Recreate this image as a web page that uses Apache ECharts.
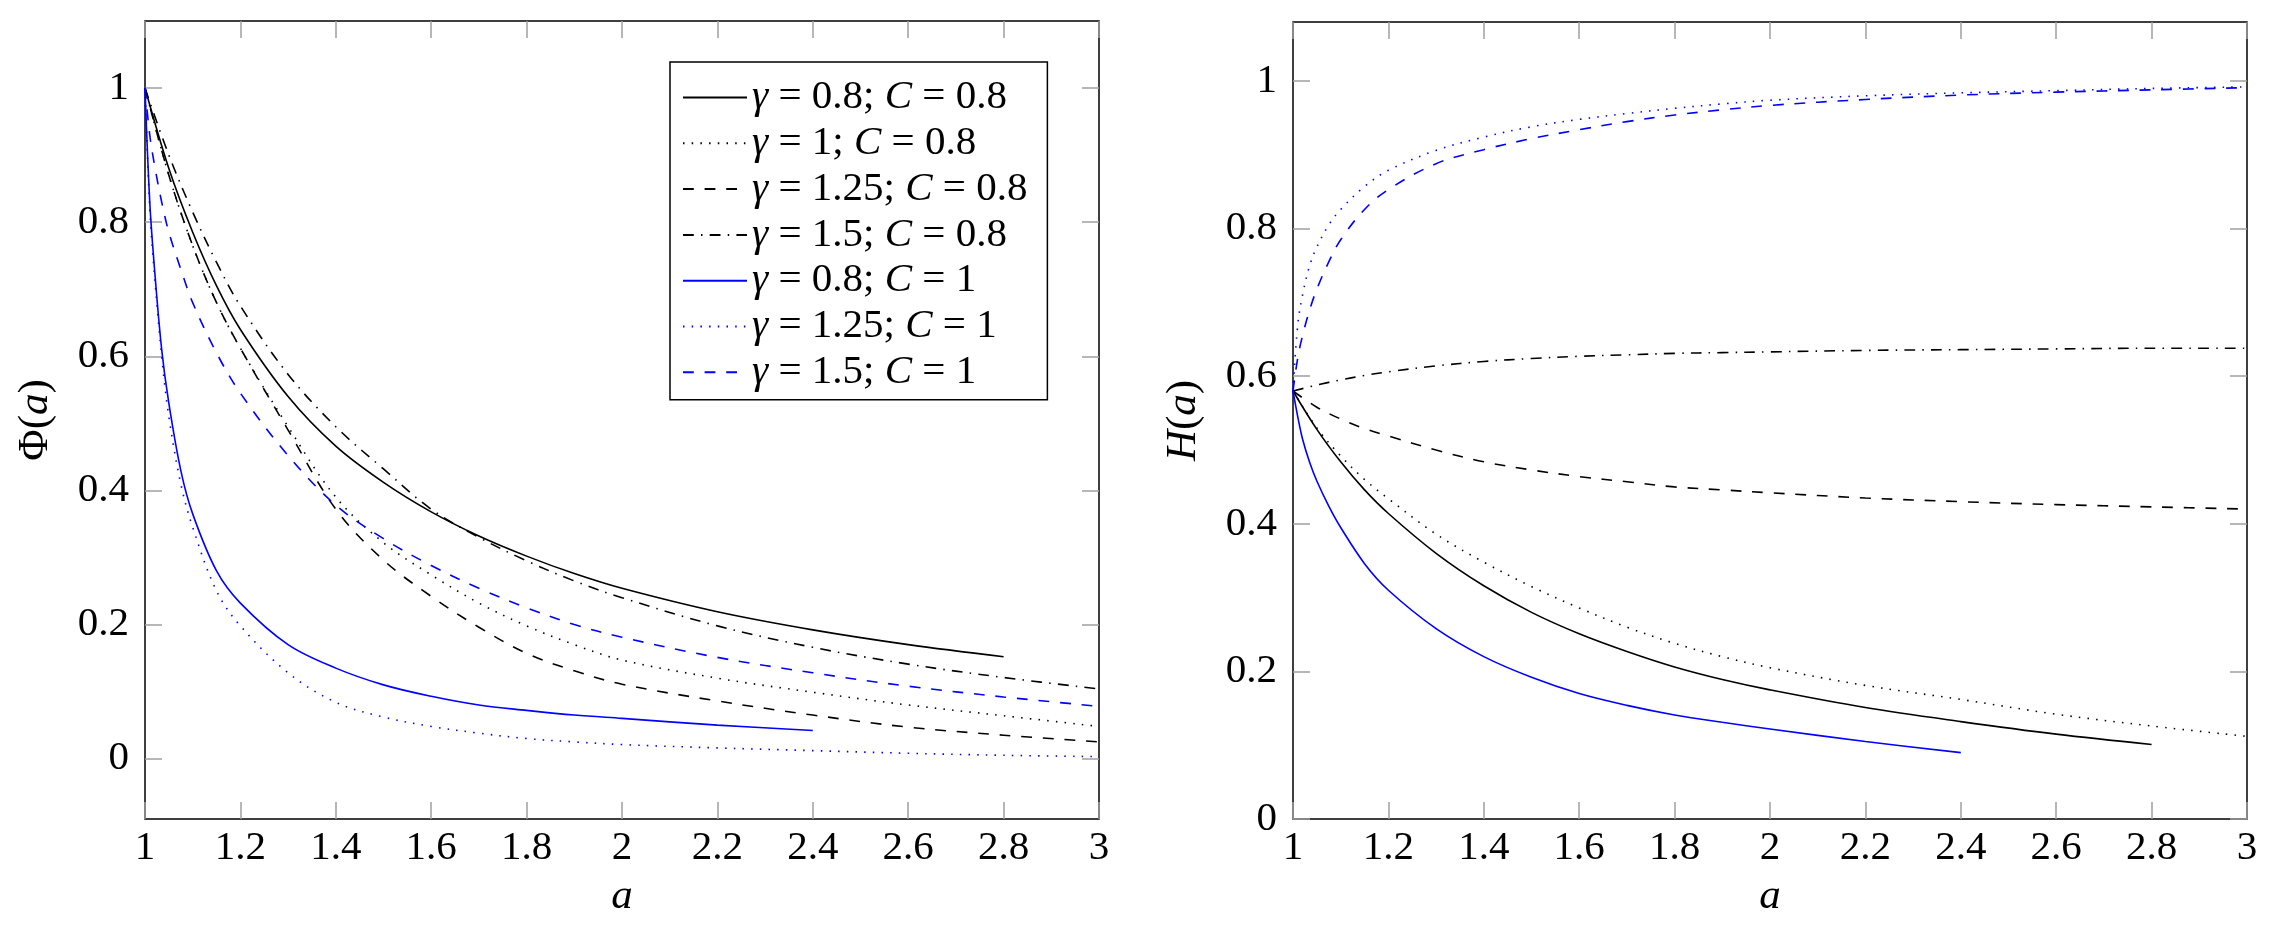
<!DOCTYPE html>
<html>
<head>
<meta charset="utf-8">
<script src="https://cdn.jsdelivr.net/npm/echarts@6/dist/echarts.min.js"></script>
<style>
  html, body { margin: 0; padding: 0; background: #fff; }
  #main { width: 2277px; height: 925px; }
</style>
</head>
<body>
<div id="main"></div>
<script>
// x grids (a)
var aCoarse = [1, 1.05, 1.1, 1.15, 1.2, 1.3, 1.4, 1.5, 1.6, 1.7, 1.8, 1.9, 2.0, 2.2, 2.4, 2.6, 2.8, 3.0];
var aFine = [1, 1.01, 1.02, 1.035, 1.05, 1.075, 1.1, 1.15, 1.2, 1.3, 1.4, 1.5, 1.6, 1.7, 1.8, 1.9, 2.0, 2.2, 2.4, 2.6, 2.8, 3.0];

var seriesNames = ['γ = 0.8; C = 0.8', 'γ = 1; C = 0.8', 'γ = 1.25; C = 0.8', 'γ = 1.5; C = 0.8',
                   'γ = 0.8; C = 1', 'γ = 1.25; C = 1', 'γ = 1.5; C = 1'];

// left panel: Phi(a)
var phiG08C08 = [1.0, 0.88, 0.785, 0.705, 0.64, 0.54, 0.466, 0.412, 0.368, 0.332, 0.302, 0.276, 0.254, 0.219, 0.192, 0.17, 0.152];
var phiG1C08 = [1.0, 0.87, 0.765, 0.68, 0.612, 0.495, 0.39, 0.322, 0.274, 0.232, 0.198, 0.17, 0.147, 0.12, 0.099, 0.08, 0.064, 0.048];
var phiG125C08 = [1.0, 0.87, 0.765, 0.68, 0.612, 0.49, 0.372, 0.296, 0.242, 0.196, 0.157, 0.131, 0.111, 0.086, 0.065, 0.047, 0.035, 0.025];
var phiG15C08 = [1.0, 0.9, 0.815, 0.74, 0.675, 0.573, 0.495, 0.432, 0.372, 0.33, 0.295, 0.265, 0.24, 0.198, 0.166, 0.141, 0.121, 0.104];
var phiG08C1 = [1.0, 0.83, 0.73, 0.61, 0.53, 0.43, 0.365, 0.28, 0.232, 0.17, 0.135, 0.11, 0.093, 0.08, 0.072, 0.065, 0.06, 0.05, 0.042];
var phiG125C1 = [1.0, 0.82, 0.72, 0.6, 0.51, 0.41, 0.345, 0.25, 0.198, 0.128, 0.084, 0.062, 0.048, 0.038, 0.03, 0.025, 0.021, 0.016, 0.012, 0.008, 0.005, 0.003];
var phiG15C1 = [1.0, 0.93, 0.885, 0.83, 0.785, 0.73, 0.68, 0.605, 0.545, 0.452, 0.378, 0.328, 0.288, 0.254, 0.225, 0.2, 0.181, 0.151, 0.128, 0.108, 0.092, 0.078];

// right panel: H(a)
var hG08C08 = [0.58, 0.528, 0.484, 0.446, 0.414, 0.36, 0.316, 0.28, 0.251, 0.227, 0.206, 0.189, 0.175, 0.151, 0.132, 0.115, 0.101];
var hG1C08 = [0.58, 0.53, 0.492, 0.46, 0.434, 0.386, 0.348, 0.315, 0.286, 0.26, 0.238, 0.22, 0.205, 0.181, 0.162, 0.142, 0.126, 0.112];
var hG125C08 = [0.58, 0.558, 0.542, 0.529, 0.519, 0.5, 0.484, 0.473, 0.464, 0.457, 0.45, 0.446, 0.442, 0.435, 0.43, 0.426, 0.423, 0.42];
var hG15C08 = [0.58, 0.588, 0.595, 0.601, 0.606, 0.614, 0.62, 0.624, 0.627, 0.629, 0.631, 0.632, 0.633, 0.635, 0.636, 0.637, 0.638, 0.638];
var hG08C1 = [0.58, 0.545, 0.515, 0.483, 0.458, 0.424, 0.395, 0.346, 0.31, 0.258, 0.22, 0.192, 0.17, 0.154, 0.141, 0.131, 0.122, 0.105, 0.09];
var hG125C1 = [0.58, 0.67, 0.71, 0.75, 0.775, 0.805, 0.826, 0.857, 0.879, 0.906, 0.924, 0.938, 0.948, 0.956, 0.963, 0.969, 0.974, 0.98, 0.984, 0.987, 0.99, 0.992];
var hG15C1 = [0.58, 0.625, 0.655, 0.69, 0.718, 0.755, 0.785, 0.826, 0.853, 0.888, 0.907, 0.922, 0.934, 0.945, 0.954, 0.961, 0.967, 0.975, 0.981, 0.985, 0.988, 0.991];

// tick labels
var xTicks = [1, 1.2, 1.4, 1.6, 1.8, 2, 2.2, 2.4, 2.6, 2.8, 3];
var yTicks = [0, 0.2, 0.4, 0.6, 0.8, 1];

var FONT = "'Liberation Serif', 'DejaVu Serif', serif";
var BLUE = '#0000ff';
var DOT = [1.5, 7.2];
var DASH = [10.8, 10.8];
var DASHDOT = [10.8, 7.2, 1.5, 7.2];

function pairs(xs, ys) {
  return ys.map(function (y, i) { return [xs[i], y]; });
}

var myChart = echarts.init(document.getElementById('main'));

function xAx(grid, pos) {
  return {
    type: 'value', gridIndex: grid, position: pos, min: 1, max: 3,
    axisLine: { show: false, onZero: false },
    splitLine: { show: false },
    axisTick: { show: true, inside: true, length: 17, customValues: xTicks,
                lineStyle: { color: '#a0a0a0', width: 1.5 } },
    axisLabel: { show: pos === 'bottom', customValues: xTicks, margin: 9,
                 fontFamily: FONT, fontSize: 41, color: '#000' },
    name: pos === 'bottom' ? '{i|a}' : '',
    nameLocation: 'middle', nameGap: 56,
    nameTextStyle: { rich: { i: { fontFamily: FONT, fontStyle: 'italic', fontSize: 43, color: '#000' } } }
  };
}

function yAx(grid, pos, min, max, nm) {
  return {
    type: 'value', gridIndex: grid, position: pos, min: min, max: max,
    axisLine: { show: false, onZero: false },
    splitLine: { show: false },
    axisTick: { show: true, inside: true, length: 17, customValues: yTicks,
                lineStyle: { color: '#a0a0a0', width: 1.5 } },
    axisLabel: { show: pos === 'left', customValues: yTicks, margin: 16,
                 fontFamily: FONT, fontSize: 41, color: '#000' },
    name: pos === 'left' ? nm : '',
    nameLocation: 'middle', nameGap: 88, nameRotate: 90,
    nameTextStyle: { rich: {
      n: { fontFamily: FONT, fontSize: 43, color: '#000' },
      i: { fontFamily: FONT, fontStyle: 'italic', fontSize: 43, color: '#000' }
    } }
  };
}

var styles = [
  { color: '#000', type: 'solid' },
  { color: '#000', type: DOT },
  { color: '#000', type: DASH },
  { color: '#000', type: DASHDOT },
  { color: BLUE, type: 'solid' },
  { color: BLUE, type: DOT },
  { color: BLUE, type: DASH }
];

var leftData = [
  pairs(aCoarse, phiG08C08), pairs(aCoarse, phiG1C08), pairs(aCoarse, phiG125C08), pairs(aCoarse, phiG15C08),
  pairs(aFine, phiG08C1), pairs(aFine, phiG125C1), pairs(aFine, phiG15C1)
];
var rightData = [
  pairs(aCoarse, hG08C08), pairs(aCoarse, hG1C08), pairs(aCoarse, hG125C08), pairs(aCoarse, hG15C08),
  pairs(aFine, hG08C1), pairs(aFine, hG125C1), pairs(aFine, hG15C1)
];

var series = [];
[leftData, rightData].forEach(function (set, g) {
  set.forEach(function (d, k) {
    series.push({
      name: seriesNames[k], type: 'line',
      xAxisIndex: g * 2, yAxisIndex: g * 2,
      data: d, symbol: 'none', smooth: 0.35,
      lineStyle: { color: styles[k].color, type: styles[k].type, width: 1.6 },
      itemStyle: { color: styles[k].color },
      emphasis: { disabled: true },
      animation: false
    });
  });
});

var option = {
  backgroundColor: '#fff',
  animation: false,
  grid: [
    { left: 145, top: 21, width: 954, height: 798, show: true, borderColor: '#000', borderWidth: 1.5, backgroundColor: 'transparent' },
    { left: 1293, top: 22, width: 954, height: 797, show: true, borderColor: '#000', borderWidth: 1.5, backgroundColor: 'transparent' }
  ],
  xAxis: [xAx(0, 'bottom'), xAx(0, 'top'), xAx(1, 'bottom'), xAx(1, 'top')],
  yAxis: [
    yAx(0, 'left', -0.09, 1.1, '{n|Φ(}{i|a}{n|)}'), yAx(0, 'right', -0.09, 1.1, ''),
    yAx(1, 'left', 0, 1.08, '{i|H}{n|(}{i|a}{n|)}'), yAx(1, 'right', 0, 1.08, '')
  ],
  legend: {
    data: seriesNames,
    orient: 'vertical',
    left: 670, top: 62,
    padding: [15, 20, 7, 12],
    itemWidth: 64, itemHeight: 16, itemGap: 4.8,
    borderColor: '#000', borderWidth: 1.5, backgroundColor: '#fff',
    selectedMode: false,
    itemStyle: { opacity: 0 },
    formatter: function (name) {
      return name.replace('γ', '{i|γ}').replace('C', '{i|C}');
    },
    textStyle: {
      fontFamily: FONT, fontSize: 41, color: '#000', lineHeight: 40,
      rich: { i: { fontFamily: FONT, fontStyle: 'italic', fontSize: 41, lineHeight: 40, color: '#000' } }
    }
  },
  series: series
};

myChart.setOption(option);
</script>
</body>
</html>
